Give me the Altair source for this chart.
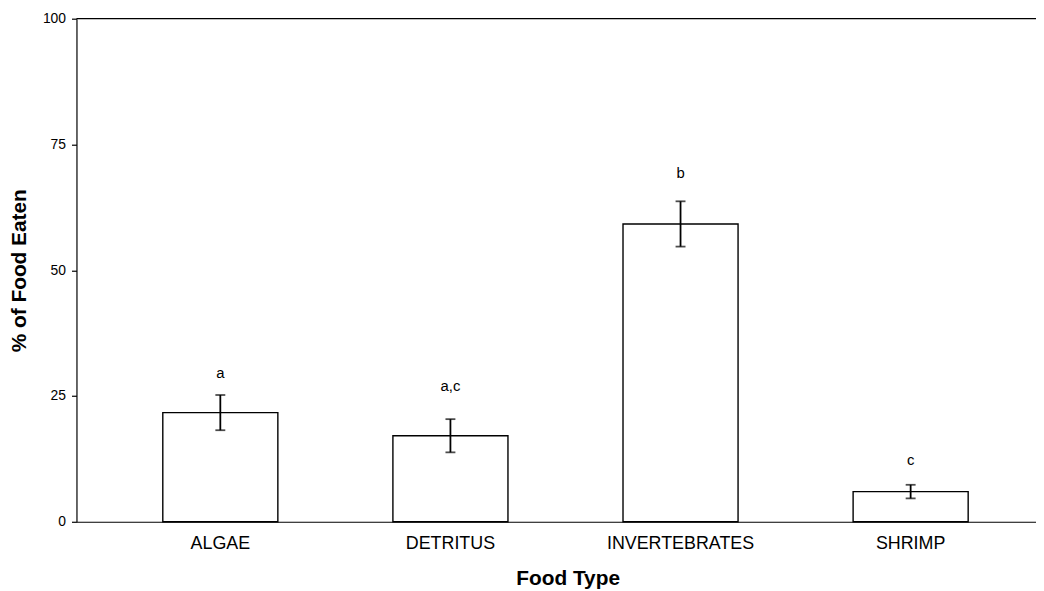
import altair as alt
import pandas as pd

food = ["ALGAE", "DETRITUS", "INVERTEBRATES", "SHRIMP"]
mean = [21.7, 17.1, 59.2, 6.0]
err = [3.5, 3.3, 4.5, 1.35]
letters = ["a", "a,c", "b", "c"]
letter_y = [29.6, 26.9, 69.3, 12.2]
y_ticks = [0, 25, 50, 75, 100]

df = pd.DataFrame({
    "food": food,
    "mean": mean,
    "lo": [m - e for m, e in zip(mean, err)],
    "hi": [m + e for m, e in zip(mean, err)],
    "letter": letters,
    "ly": letter_y,
})

W, H = 967, 507
FONT = "Liberation Sans"

xs = alt.Scale(paddingInner=0.5, paddingOuter=0.335, align=0.56, round=False)
ys = alt.Scale(domain=[0, 100])

x_axis = alt.Axis(
    title="Food Type", labelAngle=0, ticks=False, tickSize=0,
    labelPadding=13, labelFontSize=18, labelColor="black",
    titleFontSize=21, titleFontWeight="bold", titleColor="black",
    titleX=495, titleY=57, titleBaseline="middle", titleAlign="center",
    domainColor="black", domainWidth=1.2,
)
y_axis = alt.Axis(
    values=y_ticks, title="% of Food Eaten", grid=False,
    tickSize=5, tickColor="black", tickWidth=1.2,
    labelPadding=6, labelFontSize=14, labelColor="black",
    titleFontSize=21, titleFontWeight="bold", titleColor="black",
    titleX=-57, titleY=H / 2, titleAngle=-90,
    titleBaseline="middle", titleAlign="center",
    domainColor="black", domainWidth=1.2,
)

def X():
    return alt.X("food:N", sort=food, scale=xs, axis=x_axis)

def Y(field):
    return alt.Y(field, scale=ys, axis=y_axis)

bars = alt.Chart(df).mark_bar(fill="white", stroke="black", strokeWidth=1.4).encode(
    x=X(), y=Y("mean:Q"),
)

rules = alt.Chart(df).mark_rule(color="black", strokeWidth=1.8).encode(
    x=X(), y=Y("lo:Q"), y2="hi:Q",
)

cap_hi = alt.Chart(df).mark_tick(color="black", size=10, thickness=1.8).encode(
    x=X(), y=Y("hi:Q"),
)
cap_lo = alt.Chart(df).mark_tick(color="black", size=10, thickness=1.8).encode(
    x=X(), y=Y("lo:Q"),
)

text = alt.Chart(df).mark_text(fontSize=15, color="black", baseline="middle").encode(
    x=X(), y=Y("ly:Q"), text="letter:N",
)

top = alt.Chart(pd.DataFrame({"v": [100]})).mark_rule(color="black", strokeWidth=1.2).encode(
    y=Y("v:Q")
)

chart = alt.layer(bars, rules, cap_hi, cap_lo, text, top).properties(
    width=W, height=H,
    autosize=alt.AutoSizeParams(type="none"),
    padding={"left": 69, "top": 8.5, "right": 0, "bottom": 70},
).configure(font=FONT).configure_view(stroke=None)

chart.save("out.html", embed_options={"renderer": "svg", "actions": False})
